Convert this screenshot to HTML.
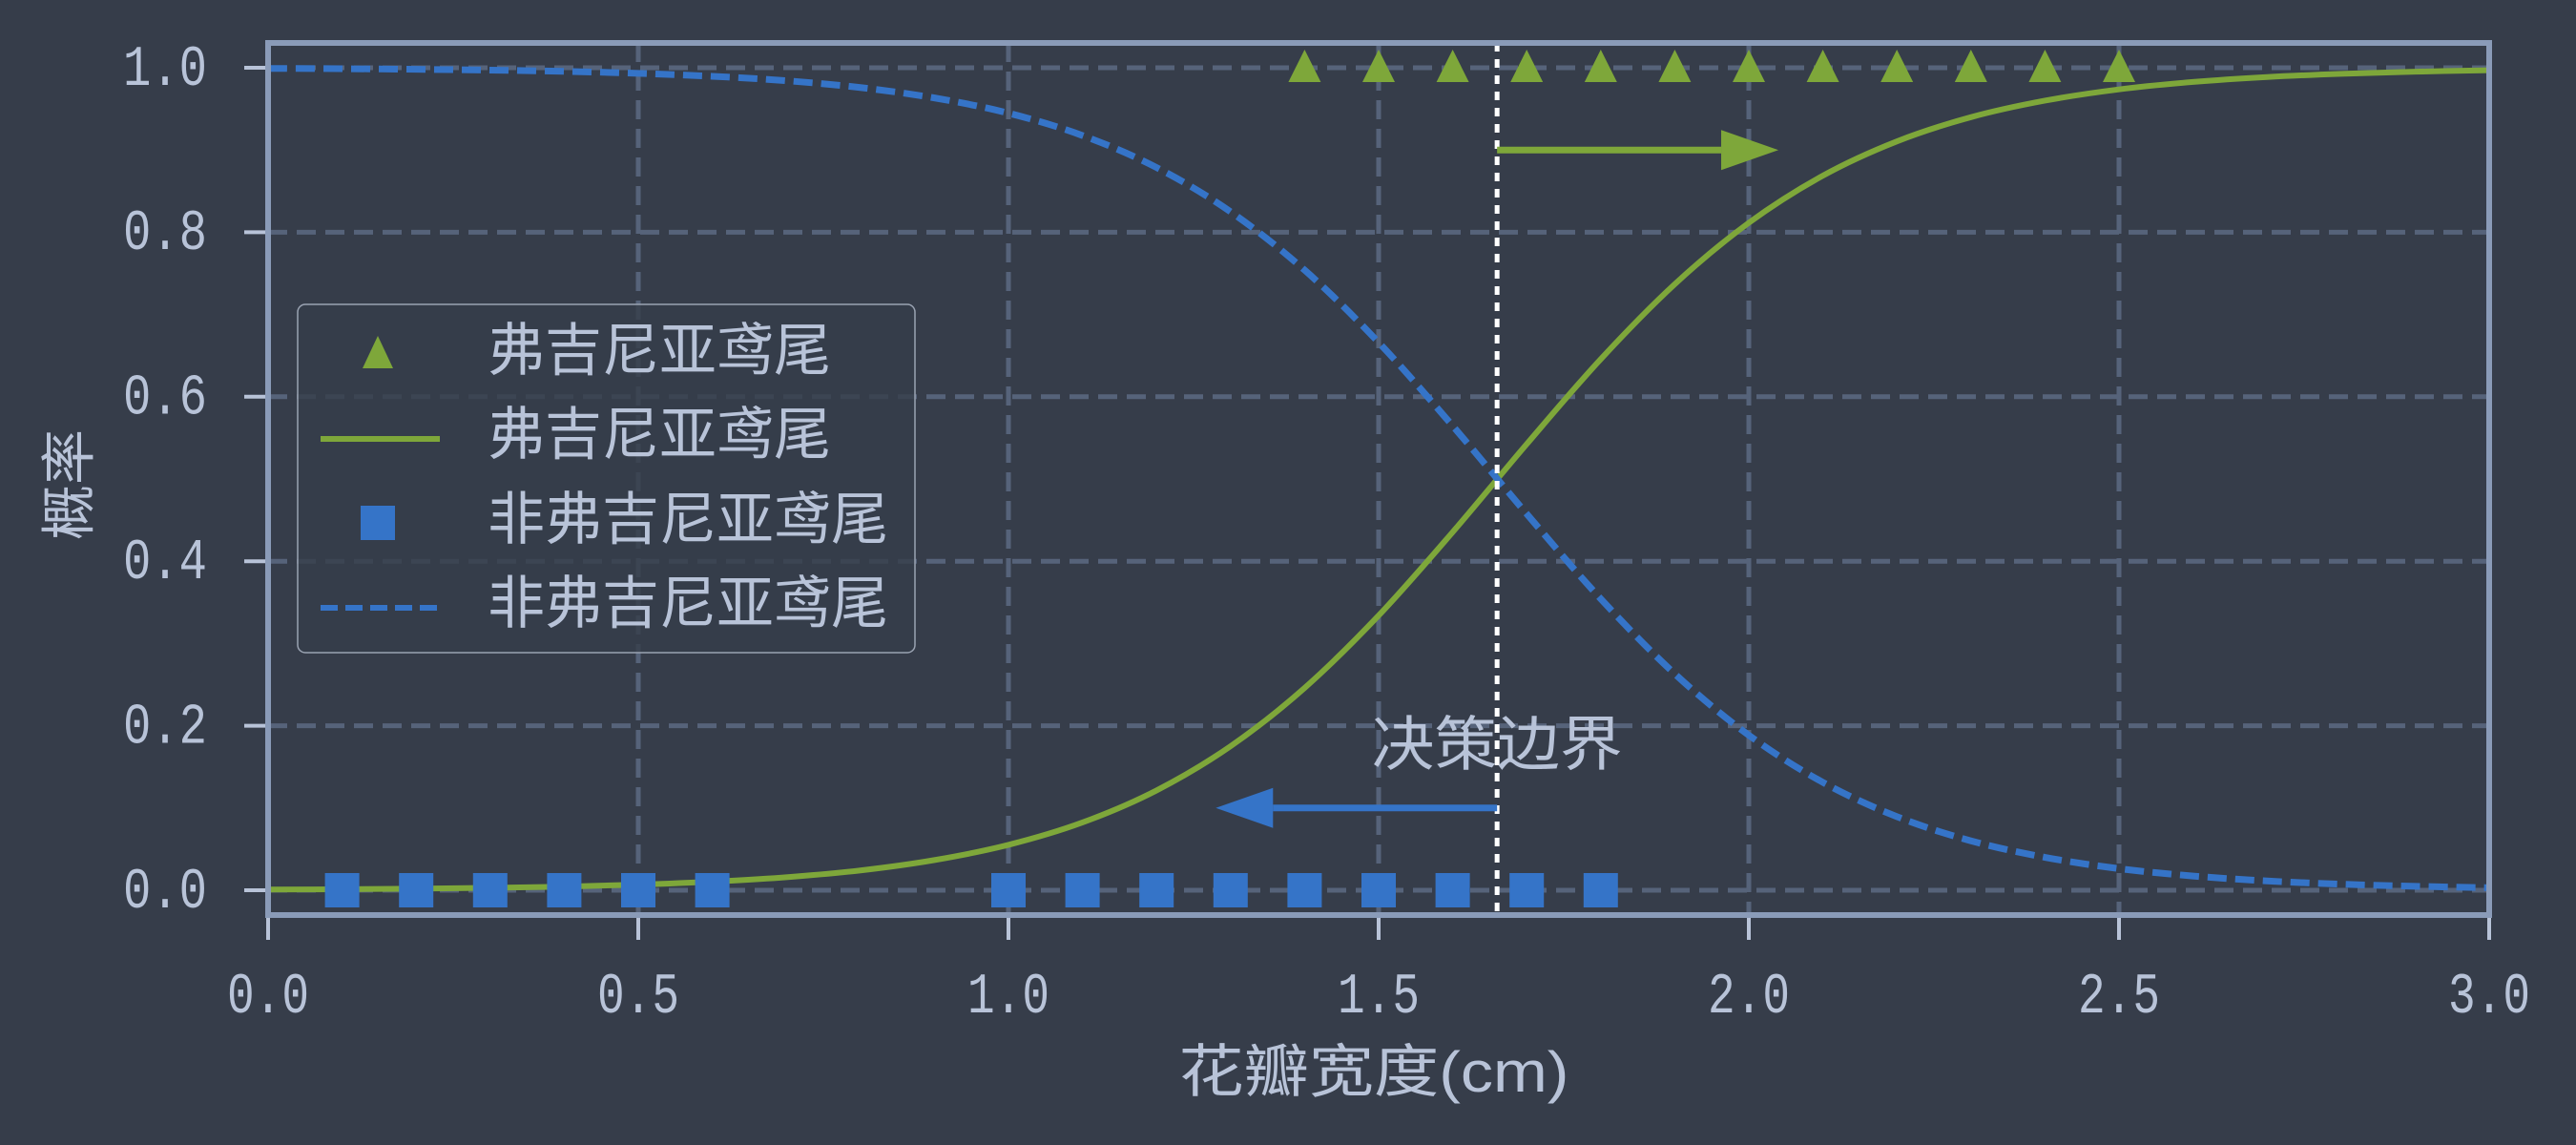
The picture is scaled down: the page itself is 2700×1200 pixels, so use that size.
<!DOCTYPE html>
<html><head><meta charset="utf-8">
<style>
html,body{margin:0;padding:0;background:#363d4a;}
svg{display:block;}
text{font-family:"Liberation Mono","Noto Sans CJK SC",monospace;fill:#b8c3d8;}
.cjk{font-family:"Liberation Sans","Noto Sans CJK SC",sans-serif;}
</style></head>
<body>
<svg id="chart" width="2700" height="1200" viewBox="0 0 2700 1200" xmlns="http://www.w3.org/2000/svg">
<rect x="0" y="0" width="2700" height="1200" fill="#363d4a"/>
<g id="grid"></g>
<g id="series"></g>
<g id="axes"></g>
<text x="77" y="508" font-size="58" text-anchor="middle" dominant-baseline="middle" transform="rotate(-90 77 508)" class="cjk">概率</text>
<text x="1440" y="1128" font-size="60" textLength="409" lengthAdjust="spacingAndGlyphs" text-anchor="middle" dominant-baseline="middle" class="cjk">花瓣宽度(cm)</text>
<g>
<rect x="312" y="319" width="647" height="365" rx="8" fill="#363d4a" fill-opacity="0.8" stroke="#9aa3b2" stroke-width="1.5"/>
<polygon points="396,352 380,386 412,386" fill="#7ea73a"/>
<text x="511" y="372" font-size="60" dominant-baseline="middle" class="cjk">弗吉尼亚鸢尾</text>
<line x1="336" y1="460" x2="461" y2="460" stroke="#7ea73a" stroke-width="6"/>
<text x="511" y="460" font-size="60" dominant-baseline="middle" class="cjk">弗吉尼亚鸢尾</text>
<rect x="378" y="530" width="36" height="36" fill="#3574c8"/>
<text x="511" y="549" font-size="60" dominant-baseline="middle" class="cjk">非弗吉尼亚鸢尾</text>
<line x1="336" y1="637" x2="461" y2="637" stroke="#3574c8" stroke-width="6" stroke-dasharray="18,8"/>
<text x="511" y="637" font-size="60" dominant-baseline="middle" class="cjk">非弗吉尼亚鸢尾</text>
</g>
</svg>
<script>
const curveX = [0,0.1,0.2,0.3,0.4,0.5,0.6,0.7,0.8,0.9,1.0,1.1,1.2,1.3,1.4,1.5,1.6,1.7,1.8,1.9,2.0,2.1,2.2,2.3,2.4,2.5,2.6,2.7,2.8,2.9,3.0];
const probVirginica = [0.0008,0.0012,0.0019,0.0029,0.0044,0.0068,0.0104,0.0158,0.0241,0.0367,0.0552,0.0824,0.1213,0.1751,0.2460,0.3340,0.4354,0.5424,0.6457,0.7369,0.8115,0.8688,0.9105,0.9399,0.9600,0.9737,0.9827,0.9887,0.9926,0.9952,0.9969];
const probNonVirginica = [0.9992,0.9988,0.9981,0.9971,0.9956,0.9932,0.9896,0.9842,0.9759,0.9633,0.9448,0.9176,0.8787,0.8249,0.7540,0.6660,0.5646,0.4576,0.3543,0.2631,0.1885,0.1312,0.0895,0.0601,0.0400,0.0263,0.0173,0.0113,0.0074,0.0048,0.0031];
const virginicaX = [1.4,1.5,1.6,1.7,1.8,1.9,2.0,2.1,2.2,2.3,2.4,2.5];
const virginicaY = [1,1,1,1,1,1,1,1,1,1,1,1];
const nonVirginicaX = [0.1,0.2,0.3,0.4,0.5,0.6,1.0,1.1,1.2,1.3,1.4,1.5,1.6,1.7,1.8];
const nonVirginicaY = [0,0,0,0,0,0,0,0,0,0,0,0,0,0,0];
const decisionBoundary = [1.66];
const arrowRightEnd = [2.04];
const arrowLeftEnd = [1.28];
const xTicks = [0,0.5,1.0,1.5,2.0,2.5,3.0];
const xTickLabels = ["0.0","0.5","1.0","1.5","2.0","2.5","3.0"];
const yTicks = [0,0.2,0.4,0.6,0.8,1.0];
const yTickLabels = ["0.0","0.2","0.4","0.6","0.8","1.0"];

const NS="http://www.w3.org/2000/svg";
const X0=281,X1=2609,Y0=933,Y1=71;
function sx(v){return X0+(X1-X0)*v/3;}
function sy(v){return Y0+(Y1-Y0)*v;}
function mk(tag,attrs,parent){const e=document.createElementNS(NS,tag);for(const k in attrs)e.setAttribute(k,attrs[k]);parent.appendChild(e);return e;}
const grid=document.getElementById('grid'),series=document.getElementById('series'),axes=document.getElementById('axes');

xTicks.forEach((t,i)=>{
  const g=mk('line',{x1:sx(t),x2:sx(t),y1:45,y2:959,stroke:'#56637a','stroke-width':5,'stroke-dasharray':'20,10'},grid);
  
  
  const tk=mk('line',{x1:sx(t),x2:sx(t),y1:959,y2:985,stroke:'#b8c3d8','stroke-width':4},axes);
  
  
  const tx=mk('text',{x:sx(t),y:1045,'font-size':60,textLength:86,lengthAdjust:'spacingAndGlyphs','text-anchor':'middle','dominant-baseline':'middle'},axes);
  tx.textContent=xTickLabels[i];
  
  
});
yTicks.forEach((t,i)=>{
  const g=mk('line',{x1:281,x2:2609,y1:sy(t),y2:sy(t),stroke:'#56637a','stroke-width':5,'stroke-dasharray':'20,10'},grid);
  
  
  const tk=mk('line',{x1:256,x2:281,y1:sy(t),y2:sy(t),stroke:'#b8c3d8','stroke-width':4},axes);
  
  
  const tx=mk('text',{x:217,y:sy(t)+2,'font-size':60,textLength:88,lengthAdjust:'spacingAndGlyphs','text-anchor':'end','dominant-baseline':'middle'},axes);
  tx.textContent=yTickLabels[i];
  
  
});
const frame=mk('rect',{x:281,y:45,width:2328,height:914,fill:'none',stroke:'#8a9bb8','stroke-width':6},axes);



function smoothPath(xs,ys){
  const p=xs.map((x,i)=>[sx(x),sy(ys[i])]);
  let d='M'+p[0][0]+','+p[0][1];
  for(let i=0;i<p.length-1;i++){
    const a=p[Math.max(0,i-1)],b=p[i],c=p[i+1],e=p[Math.min(p.length-1,i+2)];
    const c1=[b[0]+(c[0]-a[0])/6,b[1]+(c[1]-a[1])/6],c2=[c[0]-(e[0]-b[0])/6,c[1]-(e[1]-b[1])/6];
    d+=' C'+c1[0]+','+c1[1]+' '+c2[0]+','+c2[1]+' '+c[0]+','+c[1];
  }
  return d;
}
const gc=mk('path',{d:smoothPath(curveX,probVirginica),fill:'none',stroke:'#7ea73a','stroke-width':6},series);


const bc=mk('path',{d:smoothPath(curveX,probNonVirginica),fill:'none',stroke:'#3574c8','stroke-width':7,'stroke-dasharray':'20,9'},series);



nonVirginicaX.forEach((x,i)=>{
  const r=mk('rect',{x:sx(x)-18,y:sy(nonVirginicaY[i])-18,width:36,height:36,fill:'#3574c8'},series);
  
  
});
virginicaX.forEach((x,i)=>{
  const cx=sx(x),cy=sy(virginicaY[i]);
  const t=mk('polygon',{points:(cx)+','+(cy-19)+' '+(cx-17)+','+(cy+15)+' '+(cx+17)+','+(cy+15),fill:'#7ea73a'},series);
  
  
});

const db=sx(decisionBoundary[0]);
const dl=mk('line',{x1:db,x2:db,y1:45,y2:959,stroke:'#ffffff','stroke-width':5,'stroke-dasharray':'9,8'},series);



const ar=sx(arrowRightEnd[0]),ay=sy(0.9);
const ra=mk('line',{x1:db,x2:ar-60,y1:ay,y2:ay,stroke:'#7ea73a','stroke-width':7},series);


const rh=mk('polygon',{points:(ar)+','+ay+' '+(ar-60)+','+(ay-21)+' '+(ar-60)+','+(ay+21),fill:'#7ea73a'},series);



const al=sx(arrowLeftEnd[0]),by=sy(0.1);
const la=mk('line',{x1:db,x2:al+60,y1:by,y2:by,stroke:'#3574c8','stroke-width':7},series);


const lh=mk('polygon',{points:(al)+','+by+' '+(al+60)+','+(by-21)+' '+(al+60)+','+(by+21),fill:'#3574c8'},series);



const lab=mk('text',{x:db,y:785,'font-size':62,textLength:263,lengthAdjust:'spacingAndGlyphs','text-anchor':'middle','dominant-baseline':'middle',class:'cjk'},series);
lab.textContent='决策边界';


</script>
</body></html>
